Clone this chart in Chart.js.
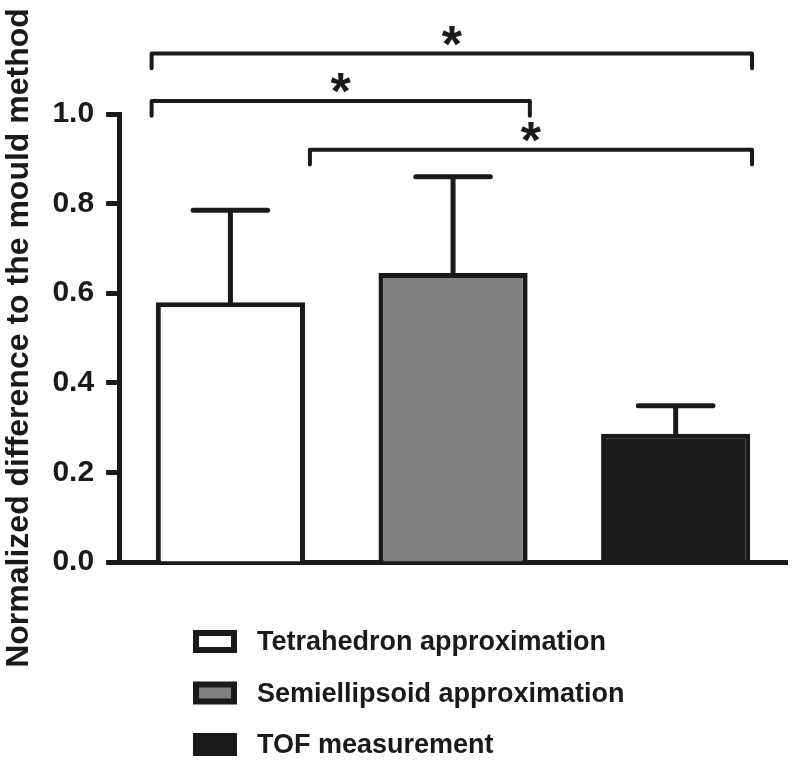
<!DOCTYPE html>
<html>
<head>
<meta charset="utf-8">
<script src="https://cdn.jsdelivr.net/npm/chart.js@4"></script>
<style>
  html, body { margin: 0; padding: 0; background: #fff; }
  #wrap { width: 792px; height: 760px; }
</style>
</head>
<body>
<div id="wrap"><canvas id="chart" width="792" height="760"></canvas></div>
<script>
// data
const groups = ["Tetrahedron approximation", "Semiellipsoid approximation", "TOF measurement"];
const means = [0.580, 0.645, 0.286];
const errors = [0.205, 0.215, 0.063];
const fills = ["#ffffff", "#808080", "#1a1a1a"];
const yTicks = [0, 0.2, 0.4, 0.6, 0.8, 1.0];
// significance brackets: [from category, to category, height]
const brackets = [
    [-0.354, 2.343, 1.135],
    [-0.354, 1.345, 1.029],
    [0.357, 2.343, 0.920]
];

const ink = "#1a1a1a";

// error bars (upper half only) + significance brackets
const extras = {
    id: 'extras',
    afterDatasetsDraw(chart) {
        const ctx = chart.ctx;
        const x = chart.scales.x, y = chart.scales.y;
        const meta = chart.getDatasetMeta(0);
        ctx.save();
        ctx.strokeStyle = ink;
        ctx.lineWidth = 5;
        ctx.lineCap = 'round';
        meta.data.forEach((bar, i) => {
            const top = y.getPixelForValue(means[i] + errors[i]);
            const half = bar.width / 4;
            ctx.beginPath();
            ctx.moveTo(bar.x, bar.y);
            ctx.lineTo(bar.x, top);
            ctx.moveTo(bar.x - half, top);
            ctx.lineTo(bar.x + half, top);
            ctx.stroke();
        });

        ctx.lineWidth = 4;
        ctx.lineJoin = 'round';
        ctx.fillStyle = ink;
        ctx.font = 'bold 52px "Liberation Sans", Arial, sans-serif';
        ctx.textAlign = 'center';
        ctx.textBaseline = 'alphabetic';
        brackets.forEach(([a, b, h]) => {
            const x1 = x.getPixelForValue(a), x2 = x.getPixelForValue(b);
            const yy = y.getPixelForValue(h);
            const drop = y.getPixelForValue(h - 0.033);
            ctx.beginPath();
            ctx.moveTo(x1, drop);
            ctx.lineTo(x1, yy);
            ctx.lineTo(x2, yy);
            ctx.lineTo(x2, drop);
            ctx.stroke();
            ctx.fillText('*', (x1 + x2) / 2, yy + 8);
        });
        ctx.restore();
    }
};

// stacked legend under the plot
const stackLegend = {
    id: 'stackLegend',
    afterDraw(chart) {
        const ctx = chart.ctx;
        const left = 193, top = 630, rowGap = 51.5;
        ctx.save();
        ctx.font = 'bold 27px "Liberation Sans", Arial, sans-serif';
        ctx.textBaseline = 'middle';
        ctx.textAlign = 'left';
        groups.forEach((name, i) => {
            const ty = top + i * rowGap;
            ctx.fillStyle = ink;
            ctx.fillRect(left, ty, 44, 23);
            ctx.fillStyle = fills[i];
            ctx.fillRect(left + 6, ty + 6, 32, 11);
            ctx.fillStyle = ink;
            ctx.fillText(name, 257, ty + 13);
        });
        ctx.restore();
    }
};

new Chart(document.getElementById("chart"), {
    type: 'bar',
    data: {
        labels: groups,
        datasets: [{
            data: means,
            backgroundColor: fills,
            borderColor: ink,
            borderWidth: 5,
            barPercentage: 0.67,
            categoryPercentage: 1
        }]
    },
    options: {
        responsive: false,
        animation: false,
        layout: { padding: { top: 114, right: 5, bottom: 190, left: 0 } },
        plugins: {
            legend: { display: false },
            tooltip: { enabled: false }
        },
        scales: {
            x: {
                grid: { display: false },
                ticks: { display: false },
                border: { display: true, color: ink, width: 5 }
            },
            y: {
                min: 0,
                max: 1,
                afterBuildTicks: (axis) => { axis.ticks = yTicks.map(v => ({ value: v })); },
                ticks: {
                    color: ink,
                    padding: 12,
                    font: { family: '"Liberation Sans", Arial, sans-serif', size: 30, weight: 'bold' },
                    callback: (v) => v.toFixed(1)
                },
                grid: { drawOnChartArea: false, tickLength: 13, tickWidth: 5, tickColor: ink },
                border: { color: ink, width: 5 },
                title: {
                    display: true,
                    text: "Normalized difference to the mould method",
                    color: ink,
                    padding: { top: 0, bottom: 2 },
                    font: { family: '"Liberation Sans", Arial, sans-serif', size: 32, weight: 'bold' }
                }
            }
        }
    },
    plugins: [extras, stackLegend]
});
</script>
</body>
</html>
